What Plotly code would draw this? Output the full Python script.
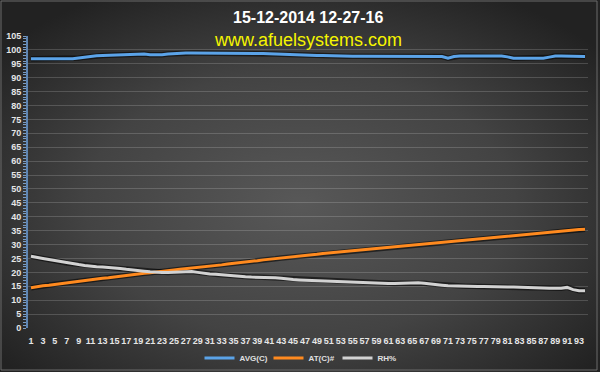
import plotly.graph_objects as go

# ---------------- data ----------------
idx = list(range(1, 95))
x_ticks = list(range(1, 94, 2))
y_ticks = list(range(0, 106, 5))

avg_c = [96.8, 96.8, 96.8, 96.8, 96.8, 96.8, 96.8, 96.8, 97.1, 97.4,
         97.7, 97.9, 98.0, 98.1, 98.2, 98.3, 98.4, 98.5, 98.6, 98.5,
         98.3, 98.2, 98.3, 98.5, 98.7, 98.8, 98.9, 98.9, 98.9, 98.9,
         98.9, 98.9, 98.9, 98.9, 98.9, 98.9, 98.9, 98.9, 98.8, 98.7,
         98.6, 98.5, 98.4, 98.3, 98.3, 98.2, 98.2, 98.1, 98.0, 98.0,
         97.9, 97.8, 97.7, 97.7, 97.7, 97.7, 97.7, 97.7, 97.7, 97.7,
         97.7, 97.7, 97.7, 97.7, 97.7, 97.7, 97.7, 97.7, 97.7, 97.6,
         97.0, 97.6, 97.8, 97.8, 97.8, 97.8, 97.8, 97.8, 97.8, 97.8,
         97.5, 97.0, 97.0, 97.0, 97.0, 97.0, 97.0, 97.4, 97.8, 97.8,
         97.8, 97.8, 97.8, 97.6]

at_c = [14.5, 14.9, 15.2, 15.4, 15.7, 16.0, 16.3, 16.5, 16.8, 17.0,
        17.3, 17.6, 17.9, 18.1, 18.4, 18.7, 18.9, 19.2, 19.4, 19.7,
        19.9, 20.2, 20.4, 20.6, 20.9, 21.1, 21.3, 21.6, 21.8, 22.0,
        22.2, 22.5, 22.7, 23.0, 23.2, 23.5, 23.7, 24.0, 24.2, 24.5,
        24.7, 24.9, 25.2, 25.4, 25.6, 25.8, 26.1, 26.3, 26.5, 26.8,
        27.0, 27.2, 27.4, 27.7, 27.9, 28.1, 28.3, 28.5, 28.8, 29.0,
        29.2, 29.4, 29.6, 29.8, 30.0, 30.2, 30.4, 30.6, 30.8, 31.0,
        31.2, 31.4, 31.6, 31.8, 32.0, 32.2, 32.4, 32.6, 32.8, 33.0,
        33.2, 33.4, 33.6, 33.8, 34.0, 34.2, 34.4, 34.6, 34.8, 34.9,
        35.1, 35.2, 35.4, 35.5]

rh = [25.8, 25.5, 25.0, 24.6, 24.2, 23.8, 23.4, 23.1, 22.8, 22.5,
      22.2, 22.0, 21.9, 21.8, 21.6, 21.4, 21.1, 20.8, 20.6, 20.4,
      20.2, 20.0, 20.0, 20.0, 20.1, 20.2, 20.3, 20.3, 20.0, 19.6,
      19.4, 19.3, 19.1, 18.9, 18.6, 18.5, 18.4, 18.3, 18.3, 18.2,
      18.2, 18.1, 17.9, 17.6, 17.4, 17.3, 17.2, 17.1, 17.0, 16.9,
      16.8, 16.7, 16.6, 16.6, 16.5, 16.4, 16.4, 16.3, 16.2, 16.1,
      16.0, 16.0, 16.1, 16.2, 16.3, 16.3, 16.1, 15.8, 15.6, 15.4,
      15.2, 15.1, 15.1, 15.0, 15.0, 14.9, 14.9, 14.8, 14.8, 14.8,
      14.7, 14.7, 14.6, 14.6, 14.5, 14.5, 14.4, 14.3, 14.3, 14.3,
      14.6, 13.8, 13.4, 13.4]

series = [("AVG(C)", avg_c, "#5ba3e8"),
          ("AT(C)#", at_c, "#ff8a1f"),
          ("RH%", rh, "#d2d2d2")]

title_text = "15-12-2014 12-27-16"
subtitle_text = "www.afuelsystems.com"

# ---------------- figure ----------------
fig = go.Figure()

for name, vals, col in series:
    fig.add_trace(go.Scatter(x=idx, y=vals, mode="lines", showlegend=False,
                             hoverinfo="skip",
                             line=dict(color="rgba(0,0,0,0.55)", width=5.5)))
for name, vals, col in series:
    fig.add_trace(go.Scatter(x=idx, y=vals, mode="lines", name=name,
                             line=dict(color=col, width=3)))

bg_svg = (
    "data:image/svg+xml;utf8,"
    "<svg xmlns='http://www.w3.org/2000/svg' width='600' height='372'>"
    "<defs><radialGradient id='g' cx='0.5' cy='0.55' r='0.65'>"
    "<stop offset='0' stop-color='%23585858'/>"
    "<stop offset='0.55' stop-color='%23434343'/>"
    "<stop offset='1' stop-color='%23222222'/>"
    "</radialGradient></defs>"
    "<rect width='600' height='372' fill='url(%23g)'/></svg>"
)

PW, PH = 560, 292  # plot area size in px

fig.update_layout(
    width=600, height=372,
    margin=dict(l=28, r=12, t=36, b=44, autoexpand=False),
    paper_bgcolor="#333333",
    plot_bgcolor="rgba(0,0,0,0)",
    font=dict(family="Liberation Sans, Arial, sans-serif", color="#e6e6e6"),
    showlegend=True,
    legend=dict(orientation="h", xref="container", yref="container",
                x=0.505, xanchor="center", y=1 - 358 / 372, yanchor="middle",
                font=dict(size=8, color="#e0e0e0", weight="bold"),
                itemwidth=30, entrywidth=24, bgcolor="rgba(0,0,0,0)"),
    images=[dict(source=bg_svg, xref="paper", yref="paper",
                 x=-28 / PW, y=1 + 36 / PH, sizex=600 / PW, sizey=372 / PH,
                 xanchor="left", yanchor="top",
                 layer="below", sizing="stretch")],
    annotations=[
        dict(text=title_text, xref="paper", yref="paper", x=0.5, y=1,
             yanchor="middle", yshift=18.5, showarrow=False,
             font=dict(size=16, color="#ffffff", weight="bold",
                       family="Liberation Sans, Arial, sans-serif")),
        dict(text=subtitle_text, xref="paper", yref="paper", x=0.5, y=1,
             yanchor="middle", yshift=-4, showarrow=False,
             font=dict(size=18, color="#f5f500",
                       family="Liberation Sans, Arial, sans-serif")),
    ],
    shapes=[dict(type="rect", xref="paper", yref="paper",
                 x0=-27 / PW, x1=1 + 9 / PW, y0=-42 / PH, y1=1 + 35 / PH,
                 line=dict(color="#6a6a6a", width=1))],
)

fig.update_xaxes(
    type="linear", range=[0.5, 94.5], automargin=False,
    tickmode="array", tickvals=x_ticks, ticktext=[str(v) for v in x_ticks],
    tickangle=0, ticklabelstandoff=6,
    showgrid=False, zeroline=False, showline=False, ticks="",
    tickfont=dict(size=9, color="#e6e6e6", weight="bold"),
)
fig.update_yaxes(
    range=[0, 105], tickmode="array", tickvals=y_ticks, automargin=False,
    showgrid=True, gridcolor="rgba(255,255,255,0.17)", gridwidth=1,
    zeroline=False, showline=True, linecolor="#5f86b3", linewidth=2,
    ticks="outside", ticklen=3, tickcolor="#7a9cc4",
    minor=dict(dtick=1, ticks="outside", ticklen=3, tickcolor="#7a9cc4",
               showgrid=False),
    tickfont=dict(size=9, color="#e6e6e6", weight="bold"),
)

fig.write_html("out.html",
               config={"displayModeBar": False},
               post_script="document.body.style.margin='0';"
                           "document.body.style.padding='0';")
